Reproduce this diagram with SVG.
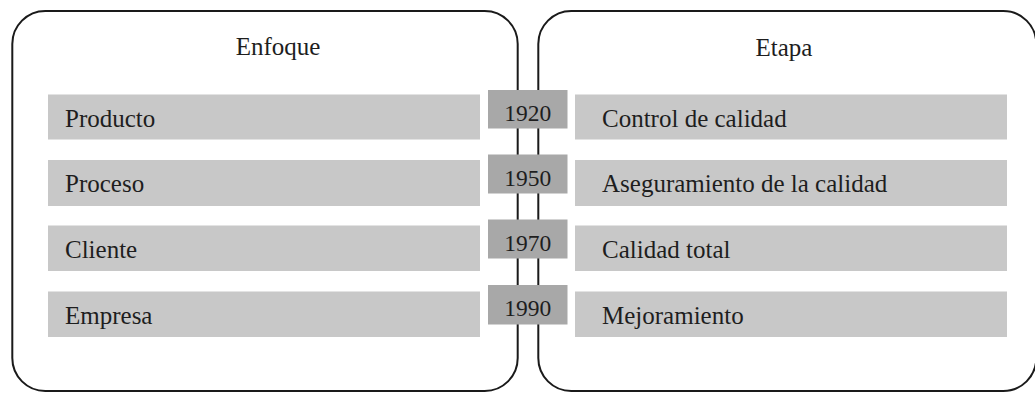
<svg xmlns="http://www.w3.org/2000/svg" width="1035" height="393" viewBox="0 0 1035 393">
<style>
.panel{fill:#ffffff;stroke:#1a1a1a;stroke-width:2}
.bar{fill:#c8c8c8}
.year{fill:#a8a8a8}
.t{font-family:"Liberation Serif","Times New Roman",serif;font-size:25px;fill:#1e1e1e}
.hdr{text-anchor:middle}
.yr{text-anchor:middle;font-size:23.5px}
</style>
<rect width="1035" height="393" fill="#ffffff"/>
<g font-family="Liberation Serif, Times New Roman, serif">
<g id="panel-enfoque">
<rect class="panel" x="12.3" y="11" width="505.4" height="380" rx="33" ry="33"/>
<text class="t hdr" x="278" y="55">Enfoque</text>
</g>
<g id="panel-etapa">
<rect class="panel" x="538.3" y="11" width="498" height="380" rx="33" ry="33"/>
<text class="t hdr" x="784" y="56">Etapa</text>
</g>
<g id="connectors"></g>
<g id="enfoque-producto"><rect class="bar" x="48" y="94.5" width="432" height="45"/><text class="t" x="65" y="126.5">Producto</text></g>
<g id="enfoque-proceso"><rect class="bar" x="48" y="160" width="432" height="46"/><text class="t" x="65" y="192">Proceso</text></g>
<g id="enfoque-cliente"><rect class="bar" x="48" y="225.5" width="432" height="45.5"/><text class="t" x="65" y="257.5">Cliente</text></g>
<g id="enfoque-empresa"><rect class="bar" x="48" y="291.5" width="432" height="45.5"/><text class="t" x="65" y="323.5">Empresa</text></g>
<g id="etapa-control"><rect class="bar" x="575" y="94.5" width="432" height="45"/><text class="t" x="602" y="126.5">Control de calidad</text></g>
<g id="etapa-aseguramiento"><rect class="bar" x="575" y="160" width="432" height="46"/><text class="t" x="602" y="192">Aseguramiento de la calidad</text></g>
<g id="etapa-calidad-total"><rect class="bar" x="575" y="225.5" width="432" height="45.5"/><text class="t" x="602" y="257.5">Calidad total</text></g>
<g id="etapa-mejoramiento"><rect class="bar" x="575" y="291.5" width="432" height="45.5"/><text class="t" x="602" y="323.5">Mejoramiento</text></g>
<g id="year-1920"><rect class="year" x="488" y="90" width="79.5" height="38.5"/><text class="t yr" x="527.7" y="121">1920</text></g>
<g id="year-1950"><rect class="year" x="488" y="154.5" width="79.5" height="39"/><text class="t yr" x="527.7" y="185.5">1950</text></g>
<g id="year-1970"><rect class="year" x="488" y="219.5" width="79.5" height="39"/><text class="t yr" x="527.7" y="250.5">1970</text></g>
<g id="year-1990"><rect class="year" x="488" y="285" width="79.5" height="39.5"/><text class="t yr" x="527.7" y="316">1990</text></g>
</g>
</svg>
